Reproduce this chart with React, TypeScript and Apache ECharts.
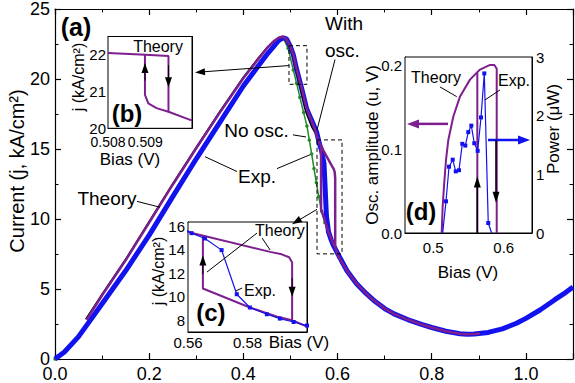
import React, { useEffect, useRef } from "react";
import * as echarts from "echarts";

const FONT = '"Liberation Sans", Arial, Helvetica, sans-serif';
const PURPLE = "#7e1f8f";
const BLUE = "#1212ee";
const GREEN = "#228b22";

// ---------- panel (a): current density vs bias ----------
const expMain: number[][] = [
  [0, 0], [0.02, 0.5], [0.05, 1.6], [0.1, 3.95], [0.15, 6.3], [0.2, 8.85], [0.25, 11.6], [0.3, 14.3],
  [0.35, 16.9], [0.4, 19.5], [0.43, 20.85], [0.45, 21.75], [0.465, 22.35], [0.475, 22.75], [0.485, 22.95],
  [0.492, 22.85], [0.5, 22.3], [0.506, 21.75], [0.513, 20.7], [0.524, 19.3], [0.5345, 17.85], [0.545, 17.05],
  [0.5557, 16.2], [0.5612, 15.4], [0.5657, 14.95], [0.5713, 13.96], [0.5764, 10.21], [0.5808, 9.08],
  [0.5865, 8.51], [0.5909, 8.14], [0.5955, 7.85], [0.6, 7.55], [0.62, 6.3], [0.64, 5.4], [0.66, 4.7],
  [0.68, 4.1], [0.7, 3.6], [0.72, 3.22], [0.75, 2.8], [0.78, 2.45], [0.8, 2.25], [0.83, 1.98], [0.86, 1.8],
  [0.875, 1.77], [0.89, 1.78], [0.92, 1.9], [0.95, 2.15], [0.98, 2.55], [1.0, 2.9], [1.03, 3.5], [1.06, 4.2],
  [1.08, 4.65], [1.1, 5.15],
];

const theoryMain: number[][] = [
  [0.067, 2.8], [0.1, 4.55], [0.15, 7.05], [0.2, 9.75], [0.25, 12.45], [0.3, 15.05], [0.35, 17.6], [0.4, 20.05],
  [0.43, 21.35], [0.45, 22.2], [0.465, 22.7], [0.475, 22.95], [0.482, 23.02], [0.49, 22.9], [0.5, 22.3],
  [0.506, 21.75], [0.513, 20.7], [0.524, 19.3], [0.5345, 17.85], [0.545, 17.0], [0.553, 16.3], [0.56, 15.5],
  [0.5876, 13.81], [0.5915, 13.6], [0.594, 13.35], [0.595, 12.9], [0.595, 8.0], [0.6, 7.45], [0.62, 6.3],
  [0.64, 5.4], [0.66, 4.7], [0.68, 4.1], [0.7, 3.6], [0.72, 3.22], [0.75, 2.8], [0.78, 2.45], [0.8, 2.25],
  [0.83, 1.98], [0.86, 1.8], [0.875, 1.77], [0.89, 1.78], [0.9025, 1.82],
];

const theoryLoop: number[][] = [[0.565, 15.22], [0.565, 10.7], [0.5808, 9.08], [0.59, 8.3], [0.595, 8.0]];

const withOscMain: number[][] = [
  [0.065, 2.85], [0.1, 4.65], [0.15, 7.15], [0.2, 9.85], [0.25, 12.55], [0.3, 15.15], [0.35, 17.7], [0.4, 20.15],
  [0.43, 21.45], [0.45, 22.25], [0.465, 22.75], [0.475, 22.97], [0.482, 23.02], [0.49, 22.85], [0.497, 22.4],
  [0.503, 21.95], [0.513, 20.4], [0.524, 18.9], [0.534, 17.5], [0.545, 16.55], [0.556, 15.95],
];

const noOscMain: number[][] = [
  [0, 0], [0.02, 0.5], [0.05, 1.6], [0.1, 3.95], [0.15, 6.3], [0.2, 8.85], [0.25, 11.6], [0.3, 14.3],
  [0.35, 16.9], [0.4, 19.5], [0.43, 20.85], [0.45, 21.75], [0.465, 22.35], [0.475, 22.75], [0.485, 22.9],
  [0.495, 22.2], [0.506, 20.65], [0.513, 19.7], [0.52, 18.7], [0.528, 17.6], [0.535, 16.65], [0.54, 15.65],
  [0.545, 14.65], [0.55, 13.6], [0.555, 12.6], [0.56, 11.6], [0.5663, 10.55], [0.573, 9.75], [0.58, 9.1],
  [0.59, 8.2], [0.6, 7.5], [0.61, 6.85], [0.62, 6.3],
];

// ---------- inset (b) ----------
const insetBUpper: number[][] = [[0.508, 22.05], [0.509, 22.0], [0.50962, 21.97], [0.50962, 20.45], [0.5102, 20.23], [0.51025, 20.22]];
const insetBLower: number[][] = [[0.50899, 22.0], [0.50899, 20.91], [0.50908, 20.68], [0.5093, 20.55], [0.50962, 20.45]];

// ---------- inset (d) ----------
const ampTheory: number[][] = [
  [0.512, 0], [0.5134, 0.032], [0.5153, 0.056], [0.5181, 0.087], [0.5214, 0.111], [0.5285, 0.139],
  [0.538, 0.163], [0.5521, 0.183], [0.5663, 0.195], [0.5805, 0.2005], [0.5866, 0.2005], [0.59, 0.196], [0.59, 0],
];
const ampTheoryJump: number[][] = [[0.5625, 0], [0.5625, 0.191]];
const powerExp: number[][] = [
  [0.5134, 0], [0.5181, 0.54], [0.5224, 1.13], [0.5276, 1.25], [0.5319, 1.05], [0.5365, 1.07], [0.5412, 1.52],
  [0.5455, 1.49], [0.5497, 1.72], [0.554, 1.83], [0.5582, 1.53], [0.563, 1.4], [0.5677, 1.97], [0.5724, 2.72],
  [0.578, 0.17], [0.5828, 0],
];

// ---------- tick values ----------
const bXTicks = [0.508, 0.5085, 0.509, 0.5095, 0.51];
const bXLabels = [0.508, 0.509];
const bYTicks = [20, 20.5, 21, 21.5, 22];
const bYLabels = [20, 21, 22];
const cXTicks = [0.56, 0.565, 0.57, 0.575, 0.58, 0.585, 0.59, 0.595, 0.6];
const cXLabels = [0.56, 0.58];
const cYTicks = [8, 10, 12, 14, 16];
const cYLabels = [8, 10, 12, 14, 16];
const dXTicks = [0.5, 0.55, 0.6];
const dXLabels = [0.5, 0.6];
const dYTicks = [0, 0.05, 0.1, 0.15, 0.2];
const dYLabels = [0, 0.1, 0.2];
const dY2Ticks = [0, 0.5, 1, 1.5, 2, 2.5, 3];
const dY2Labels = [0, 1, 2, 3];

const black = { color: "#000", width: 1 };

function mainAxis(kind: "x" | "y", pos: string, showLabel: boolean) {
  const isX = kind === "x";
  return {
    type: "value",
    gridIndex: 0,
    position: pos,
    min: 0,
    max: isX ? 1.1 : 25,
    interval: isX ? 0.2 : 5,
    axisLine: { show: true, onZero: false, lineStyle: { color: "#000", width: 1.2 } },
    axisTick: { show: true, inside: true, length: 6, lineStyle: { color: "#000", width: 1.2 } },
    minorTick: { show: true, splitNumber: 2, length: 3.5, lineStyle: black },
    splitLine: { show: false },
    minorSplitLine: { show: false },
    axisLabel: {
      show: showLabel,
      fontSize: 18,
      fontFamily: FONT,
      color: "#000",
      margin: isX ? 6 : 5,
      showMinLabel: true,
      showMaxLabel: isX ? false : true,
      formatter: (v: number) => (isX ? v.toFixed(1) : String(v)),
    },
  };
}

function insetAxis(gridIndex: number, pos: string, min: number, max: number, ticks: number[], labels: number[] | null, fmt: (v: number) => string, margin: number, fontSize = 15) {
  return {
    type: "value",
    gridIndex,
    position: pos,
    min,
    max,
    axisLine: { show: true, onZero: false, lineStyle: black },
    axisTick: { show: true, inside: true, length: 4, customValues: ticks, lineStyle: black },
    splitLine: { show: false },
    axisLabel: {
      show: !!labels,
      customValues: labels || [],
      formatter: fmt,
      showMinLabel: true,
      showMaxLabel: true,
      hideOverlap: false,
      fontSize,
      fontFamily: FONT,
      color: "#000",
      margin,
    },
  };
}

function line(data: any[], xi: number, yi: number, color: string, width: number, extra: any = {}) {
  return {
    type: "line",
    data,
    xAxisIndex: xi,
    yAxisIndex: yi,
    showSymbol: false,
    symbol: "none",
    silent: true,
    clip: true,
    lineStyle: { color, width },
    itemStyle: { color },
    ...extra,
  };
}

const option: any = {
  animation: false,
  backgroundColor: "#fff",
  grid: [
    { left: 55, top: 6, width: 518, height: 353, show: false },
    { left: 108, top: 36.5, width: 84, height: 91.8, show: true, backgroundColor: "#fff", borderColor: "#000", borderWidth: 1, z: 3 },
    { left: 188, top: 222, width: 119, height: 110, show: true, backgroundColor: "#fff", borderColor: "#000", borderWidth: 1, z: 3 },
    { left: 405, top: 57, width: 127, height: 176, show: true, backgroundColor: "#fff", borderColor: "#000", borderWidth: 1, z: 3 },
  ],
  xAxis: [
    mainAxis("x", "bottom", true),
    mainAxis("x", "top", false),
    insetAxis(1, "bottom", 0.508, 0.51025, bXTicks, bXLabels, (v) => v.toFixed(3), 7, 14),
    insetAxis(1, "top", 0.508, 0.51025, bXTicks, null, (v) => "", 6),
    insetAxis(2, "bottom", 0.56, 0.6, cXTicks, cXLabels, (v) => v.toFixed(2), 3),
    insetAxis(2, "top", 0.56, 0.6, cXTicks, null, (v) => "", 3),
    insetAxis(3, "bottom", 0.46, 0.64, dXTicks, dXLabels, (v) => v.toFixed(1), 7),
  ],
  yAxis: [
    mainAxis("y", "left", true),
    mainAxis("y", "right", false),
    insetAxis(1, "left", 20, 22.5, bYTicks, bYLabels, (v) => String(v), 2),
    insetAxis(1, "right", 20, 22.5, bYTicks, null, (v) => "", 2),
    insetAxis(2, "left", 7, 16.35, cYTicks, cYLabels, (v) => String(v), 3),
    insetAxis(2, "right", 7, 16.35, cYTicks, null, (v) => "", 3),
    insetAxis(3, "left", 0, 0.21, dYTicks, dYLabels, (v) => v.toFixed(1), 3),
    insetAxis(3, "right", 0, 3, dY2Ticks, dY2Labels, (v) => String(v), 4),
  ],
  series: [
    // main panel
    line(noOscMain, 0, 0, GREEN, 1.5, { showSymbol: true, symbol: "circle", symbolSize: 3.5, z: 2 }),
    line(expMain, 0, 0, BLUE, 5, { z: 3 }),
    line(withOscMain, 0, 0, "#000", 1.2, { z: 4 }),
    line(theoryMain, 0, 0, PURPLE, 2.5, { z: 5 }),
    line(theoryLoop, 0, 0, PURPLE, 2.5, { z: 5 }),
    // inset b
    line(insetBUpper, 2, 2, PURPLE, 2, { z: 6 }),
    line(insetBLower, 2, 2, PURPLE, 2, { z: 6 }),
    // inset c
    line(theoryMain, 4, 4, PURPLE, 2, { z: 6 }),
    line(theoryLoop, 4, 4, PURPLE, 2, { z: 6 }),
    line(expMain, 4, 4, BLUE, 1.2, { showSymbol: true, symbol: "rect", symbolSize: 4, z: 7 }),
    // inset d
    line(ampTheory, 6, 6, PURPLE, 2, { z: 6 }),
    line(ampTheoryJump, 6, 6, PURPLE, 2, { z: 6 }),
    line(
      powerExp.map((p) => (p[1] === 0 ? { value: p, symbol: "none" } : { value: p })),
      6, 7, BLUE, 1.2,
      { showSymbol: true, symbol: "rect", symbolSize: 4, z: 7 }
    ),
  ],
};

function buildGraphics(chart: any) {
  const px = (xi: number, yi: number, p: number[]) => chart.convertToPixel({ xAxisIndex: xi, yAxisIndex: yi }, p) as number[];
  const els: any[] = [];
  const text = (p: number[], t: string, size: number, o: any = {}) =>
    els.push({
      type: "text",
      x: p[0],
      y: p[1],
      rotation: o.rot || 0,
      z: 100,
      style: {
        text: t,
        fill: o.color || "#000",
        fontSize: size,
        fontFamily: FONT,
        fontWeight: o.bold ? "bold" : "normal",
        align: o.align || "center",
        verticalAlign: "middle",
        lineHeight: o.lh || size * 1.2,
      },
    });
  const seg = (a: number[], b: number[], color = "#000", w = 1) =>
    els.push({ type: "line", z: 100, shape: { x1: a[0], y1: a[1], x2: b[0], y2: b[1] }, style: { stroke: color, lineWidth: w } });
  const arrow = (a: number[], b: number[], color = "#000", w = 1, L = 10, W = 7) => {
    const dx = b[0] - a[0], dy = b[1] - a[1];
    const len = Math.hypot(dx, dy) || 1;
    const ux = dx / len, uy = dy / len;
    const bx = b[0] - ux * L, by = b[1] - uy * L;
    seg(a, [bx + ux, by + uy], color, w);
    els.push({
      type: "polygon",
      z: 101,
      shape: { points: [b, [bx - (uy * W) / 2, by + (ux * W) / 2], [bx + (uy * W) / 2, by - (ux * W) / 2]] },
      style: { fill: color },
    });
  };
  const box = (a: number[], b: number[]) =>
    els.push({
      type: "rect",
      z: 100,
      shape: { x: Math.min(a[0], b[0]), y: Math.min(a[1], b[1]), width: Math.abs(b[0] - a[0]), height: Math.abs(b[1] - a[1]) },
      style: { fill: "none", stroke: "#000", lineWidth: 1, lineDash: [4, 3] },
    });

  // main panel (a)
  const M = (x: number, y: number) => px(0, 0, [x, y]);
  text(M(0.0446, 23.73), "(a)", 25, { bold: true });
  text(M(0.1104, 11.44), "Theory", 19);
  seg(M(0.1741, 11.26), M(0.223, 10.84));
  text(M(0.429, 13.03), "Exp.", 19);
  seg(M(0.3865, 13.39), M(0.3185, 14.45));
  seg(M(0.4714, 13.6), M(0.5415, 14.59));
  text(M(0.4279, 16.32), "No osc.", 19);
  seg(M(0.5054, 16.01), M(0.533, 15.86));
  text(M(0.5734, 23.02), "With\nosc.", 19, { align: "left", lh: 27 });
  seg(M(0.5946, 21.39), M(0.5564, 16.36));
  box(M(0.4969, 22.38), M(0.5351, 19.62));
  box(M(0.5564, 15.65), M(0.6095, 7.51));
  arrow(M(0.4969, 20.96), M(0.2973, 20.47));
  arrow(M(0.5564, 10.69), M(0.5033, 9.63));

  // inset (b)
  const B = (x: number, y: number) => px(2, 2, [x, y]);
  text(B(0.50934, 22.23), "Theory", 16);
  text(B(0.50851, 20.39), "(b)", 24, { bold: true });
  arrow(B(0.50899, 21.3), B(0.50899, 21.78), "#000", 1, 10, 7);
  arrow(B(0.50962, 21.72), B(0.50962, 21.12), "#000", 1, 10, 7);

  // inset (c)
  const C = (x: number, y: number) => px(4, 4, [x, y]);
  text(C(0.5909, 15.63), "Theory", 16);
  seg(C(0.5832, 15.41), C(0.5664, 12.1));
  seg(C(0.5849, 14.99), C(0.5876, 13.97));
  text(C(0.5842, 10.57), "Exp.", 16);
  seg(C(0.5782, 10.74), C(0.5761, 10.49));
  arrow(C(0.565, 11.9), C(0.565, 13.5), "#000", 1, 10, 7);
  arrow(C(0.595, 11.6), C(0.595, 10.0), "#000", 1, 10, 7);
  text(C(0.5677, 8.62), "(c)", 24, { bold: true });

  // inset (d)
  const D = (x: number, y: number) => px(6, 6, [x, y]);
  text(D(0.5039, 0.185), "Theory", 16);
  seg(D(0.5096, 0.1743), D(0.5333, 0.1627));
  text(D(0.6145, 0.1814), "Exp.", 16);
  seg(D(0.5946, 0.1707), D(0.5734, 0.1588));
  arrow(D(0.5209, 0.1302), D(0.4628, 0.1302), PURPLE, 2.5, 12, 9);
  arrow(D(0.5776, 0.1111), D(0.6372, 0.1111), BLUE, 2.5, 12, 9);
  arrow(D(0.5625, 0), D(0.5625, 0.0674), "#000", 1.5, 11, 7);
  arrow(D(0.589, 0.1111), D(0.589, 0.0361), "#000", 1.5, 11, 7);
  text(D(0.4827, 0.0254), "(d)", 24, { bold: true });

  // axis titles
  const R = Math.PI / 2;
  text([17, 171], "Current (j, kA/cm²)", 20, { rot: R });
  text([78, 77], "j (kA/cm²)", 16, { rot: R });
  text([130, 159], "Bias (V)", 17);
  text([158, 271], "j (kA/cm²)", 16, { rot: R });
  text([299, 342], "Bias (V)", 17);
  text([372, 145], "Osc. amplitude (u, V)", 17, { rot: R });
  text([553, 129], "Power (μW)", 17, { rot: R });
  text([468, 272], "Bias (V)", 17);
  return els;
}

export default function App() {
  const ref = useRef<HTMLDivElement>(null);
  useEffect(() => {
    document.body.style.margin = "0";
    const chart = echarts.init(ref.current!, null, { renderer: "svg", width: 575, height: 383 });
    chart.setOption(option);
    chart.setOption({ graphic: { elements: buildGraphics(chart) } });
    return () => chart.dispose();
  }, []);
  return <div ref={ref} style={{ width: 575, height: 383, position: "absolute", left: 0, top: 0, background: "#fff" }} />;
}
